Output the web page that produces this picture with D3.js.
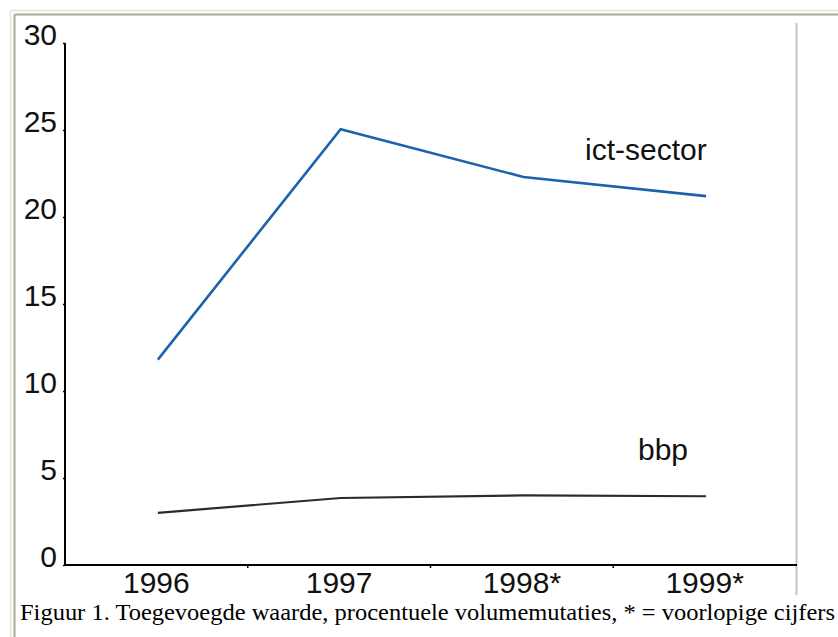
<!DOCTYPE html>
<html>
<head>
<meta charset="utf-8">
<script src="https://cdn.jsdelivr.net/npm/d3@7"></script>
<style>
  body { margin: 0; background: #fff; }
  svg { display: block; }
</style>
</head>
<body>
<svg id="chart"></svg>
<script>
// data
const years = ["1996", "1997", "1998*", "1999*"];
const ictSector = [11.8, 25.05, 22.3, 21.2];
const bbp = [3.0, 3.85, 4.0, 3.95];
const yTicks = [0, 5, 10, 15, 20, 25, 30];
const caption = "Figuur 1. Toegevoegde waarde, procentuele volumemutaties, * = voorlopige cijfers";

const w = 838, h = 637;
const mLeft = 65, mRight = 796, mTop = 43, mBottom = 565;
const sans = "'Liberation Sans', Arial, sans-serif";

const svg = d3.select("#chart").attr("width", w).attr("height", h);

// page frame (old-style table border)
svg.append("line").attr("x1", 10.5).attr("y1", 10.5).attr("x2", w).attr("y2", 10.5)
  .attr("stroke", "#ece9d8").attr("stroke-width", 2);
svg.append("line").attr("x1", 10.5).attr("y1", 10.5).attr("x2", 10.5).attr("y2", h)
  .attr("stroke", "#ece9d8").attr("stroke-width", 2);
svg.append("line").attr("x1", 14.5).attr("y1", 14.5).attr("x2", w).attr("y2", 14.5)
  .attr("stroke", "#aca899").attr("stroke-width", 2);
svg.append("line").attr("x1", 14.5).attr("y1", 14.5).attr("x2", 14.5).attr("y2", h)
  .attr("stroke", "#aca899").attr("stroke-width", 2);

// right edge of the chart image
svg.append("line").attr("x1", 796.5).attr("y1", 23).attr("x2", 796.5).attr("y2", 595)
  .attr("stroke", "#c4c4c4").attr("stroke-width", 2);

const x = d3.scaleBand().domain(years).range([mLeft, mRight]);
const y = d3.scaleLinear().domain([0, 30]).range([mBottom, mTop]);

// y axis
const yAxis = svg.append("g").attr("transform", `translate(${mLeft},0)`)
  .call(d3.axisLeft(y).tickValues(yTicks).tickSize(2).tickPadding(8).tickFormat(d3.format("d")));
yAxis.select(".domain").attr("stroke", "#000").attr("stroke-width", 2)
  .attr("d", `M0,${mTop}V${mBottom}`);
yAxis.selectAll(".tick line").attr("stroke", "#000").attr("stroke-width", 1.5);
yAxis.selectAll(".tick text")
  .attr("x", -8).attr("dy", "0.05em")
  .style("font-family", sans)
  .style("font-size", "30px").attr("fill", "#111");

// x axis
const xAxis = svg.append("g").attr("transform", `translate(0,${mBottom})`)
  .call(d3.axisBottom(x).tickSize(0).tickPadding(8));
xAxis.select(".domain").attr("stroke", "#000").attr("stroke-width", 2)
  .attr("d", `M${mLeft},0H${mRight + 1}`);
xAxis.selectAll(".tick text")
  .attr("y", 28).attr("dy", 0)
  .style("font-family", sans)
  .style("font-size", "30px").attr("fill", "#111");
// small marks between the categories
xAxis.selectAll(".sep").data(years.slice(1)).enter().append("line")
  .attr("x1", d => x(d)).attr("x2", d => x(d))
  .attr("y1", 0).attr("y2", 3)
  .attr("stroke", "#000").attr("stroke-width", 1.5);

const line = d3.line()
  .x((d, i) => x(years[i]) + x.bandwidth() / 2 + 1.5)
  .y(d => y(d));

svg.append("path").datum(ictSector)
  .attr("d", line).attr("fill", "none")
  .attr("stroke", "#1c62ad").attr("stroke-width", 2.6);

svg.append("path").datum(bbp)
  .attr("d", line).attr("fill", "none")
  .attr("stroke", "#2b2b2b").attr("stroke-width", 2.2);

// series labels
svg.append("text").attr("x", 585).attr("y", y(ictSector[3]) - 36)
  .text("ict-sector")
  .style("font-family", sans)
  .style("font-size", "30px").attr("fill", "#111");
svg.append("text").attr("x", 638).attr("y", y(bbp[3]) - 36)
  .text("bbp")
  .style("font-family", sans)
  .style("font-size", "30px").attr("fill", "#111");

// caption
svg.append("text").attr("x", 20).attr("y", 620)
  .text(caption)
  .attr("textLength", 815).attr("lengthAdjust", "spacingAndGlyphs")
  .style("font-family", "'Liberation Serif', 'Times New Roman', serif")
  .style("font-size", "23px").attr("fill", "#000");
</script>
</body>
</html>
